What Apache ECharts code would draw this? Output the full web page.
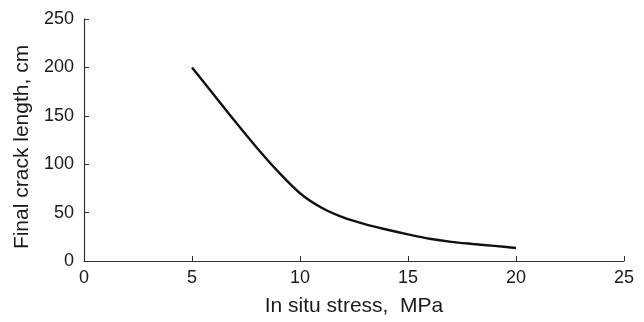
<!DOCTYPE html>
<html><head><meta charset="utf-8">
<script src="https://cdn.jsdelivr.net/npm/echarts@6/dist/echarts.min.js"></script>
<style>html,body{margin:0;padding:0;background:#fff}#c{width:644px;height:322px}</style>
</head><body><div id="c"></div>
<script>
const stress = [5,6,7,8,9,10,11,12,13,14,15,16,17,18,19,20];
const crackLength = [200,172,144,117,92,70,55,45,38,32.5,27.5,23,19.8,17.6,15.6,13.4];
const xTicks = [0,5,10,15,20,25];
const yTicks = [0,50,100,150,200,250];

const chart = echarts.init(document.getElementById('c'), null, {renderer:'canvas'});
const font = 'Liberation Sans, Arial, sans-serif';
chart.setOption({
  animation:false,
  backgroundColor:'#fff',
  grid:{left:84,right:20,top:19,bottom:60,containLabel:false},
  xAxis:{type:'value',min:xTicks[0],max:xTicks[xTicks.length-1],interval:5,
    name:'In situ stress,  MPa',nameLocation:'middle',nameGap:35,
    nameTextStyle:{fontFamily:font,fontSize:21,color:'#1a1a1a'},
    axisLine:{show:true,lineStyle:{color:'#333',width:1.2}},
    axisTick:{show:true,inside:true,length:5,lineStyle:{color:'#333'}},
    axisLabel:{fontFamily:font,fontSize:18,color:'#1a1a1a',margin:8},
    splitLine:{show:false}},
  yAxis:{type:'value',min:yTicks[0],max:yTicks[yTicks.length-1],interval:50,
    name:'Final crack length, cm',nameLocation:'middle',nameGap:44,
    nameTextStyle:{fontFamily:font,fontSize:21,color:'#1a1a1a',padding:[0,14,0,0]},
    axisLine:{show:true,lineStyle:{color:'#333',width:1.2}},
    axisTick:{show:true,inside:true,length:5,lineStyle:{color:'#333'}},
    axisLabel:{fontFamily:font,fontSize:18,color:'#1a1a1a',margin:10},
    splitLine:{show:false}},
  series:[{type:'line',data:stress.map((x,i)=>[x,crackLength[i]]),
    smooth:0.3,symbol:'none',lineStyle:{color:'#111',width:2.4}}]
});
</script></body></html>
